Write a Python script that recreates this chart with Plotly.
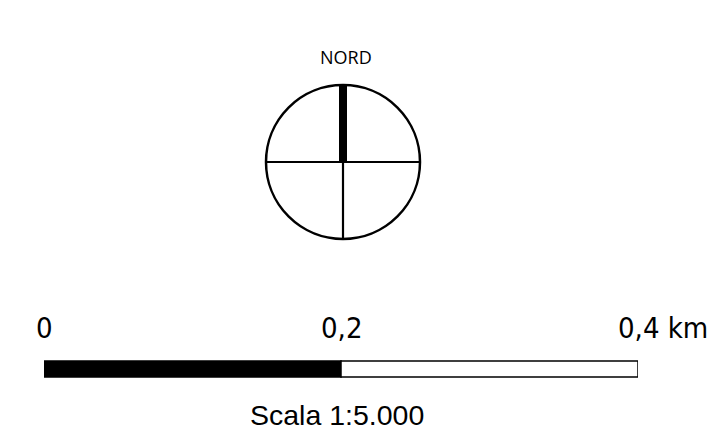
import plotly.graph_objects as go

# Scale bar data (km)
scale_ticks = [0.0, 0.2, 0.4]
tick_labels = ["0", "0,2", "0,4"]
unit = "km"
segment_fills = ["black", "white"]
title_north = "NORD"
scale_text = "Scala 1:5.000"

W, H = 718, 446
fig = go.Figure()

# invisible traces to create axes
fig.add_trace(go.Scatter(x=[0, W], y=[0, H], mode="markers", marker=dict(opacity=0),
                         hoverinfo="skip", showlegend=False))
fig.add_trace(go.Scatter(x=[scale_ticks[0], scale_ticks[-1]], y=[0, H], xaxis="x2",
                         mode="markers", marker=dict(opacity=0), hoverinfo="skip", showlegend=False))

shapes = []
# North arrow (pixel space)
cx, cy, r = 343, 162, 77
shapes.append(dict(type="circle", xref="x", yref="y", x0=cx - r, x1=cx + r, y0=cy - r, y1=cy + r,
                   line=dict(color="black", width=2.5), fillcolor="rgba(0,0,0,0)"))
shapes.append(dict(type="line", xref="x", yref="y", x0=cx - r, x1=cx + r, y0=cy, y1=cy,
                   line=dict(color="black", width=2.2)))
shapes.append(dict(type="line", xref="x", yref="y", x0=cx, x1=cx, y0=cy, y1=cy + r,
                   line=dict(color="black", width=2.2)))
shapes.append(dict(type="rect", xref="x", yref="y", x0=cx - 4, x1=cx + 4, y0=cy - r, y1=cy,
                   line=dict(width=0), fillcolor="black"))

# Scale bar segments
for i in range(len(scale_ticks) - 1):
    shapes.append(dict(type="rect", xref="x2", yref="y", x0=scale_ticks[i], x1=scale_ticks[i + 1],
                       y0=361, y1=377, fillcolor=segment_fills[i],
                       line=dict(color="black", width=1.5)))

annotations = [
    dict(text=title_north, x=346, y=57, xref="x", yref="y", showarrow=False,
         font=dict(family="Open Sans", size=18, color="black"), xanchor="center", yanchor="middle"),
    dict(text=scale_text, x=337, y=415, xref="x", yref="y", showarrow=False,
         font=dict(family="Liberation Sans", size=28.5, color="black"), xanchor="center", yanchor="middle"),
]
for i, (v, lab) in enumerate(zip(scale_ticks, tick_labels)):
    if i == len(scale_ticks) - 1:
        annotations.append(dict(text=lab + " " + unit, x=v, y=328, xref="x2", yref="y", showarrow=False,
                                xanchor="left", xshift=-22, yanchor="middle",
                                font=dict(family="DejaVu Sans Condensed", size=29, color="black")))
    else:
        annotations.append(dict(text=lab, x=v, y=328, xref="x2", yref="y", showarrow=False,
                                xanchor="center", yanchor="middle",
                                font=dict(family="DejaVu Sans Condensed", size=29, color="black")))

fig.update_layout(
    width=W, height=H, margin=dict(l=0, r=0, t=0, b=0),
    paper_bgcolor="white", plot_bgcolor="white",
    xaxis=dict(range=[0, W], visible=False, domain=[0, 1], fixedrange=True),
    xaxis2=dict(range=[scale_ticks[0], scale_ticks[-1]], visible=False,
                domain=[44 / W, 638 / W], anchor="y", fixedrange=True),
    yaxis=dict(range=[H, 0], visible=False, domain=[0, 1], fixedrange=True),
    shapes=shapes, annotations=annotations, showlegend=False,
)
fig.write_html("out.html", config=dict(displayModeBar=False),
               post_script="document.body.style.margin='0';document.body.style.overflow='hidden';")
